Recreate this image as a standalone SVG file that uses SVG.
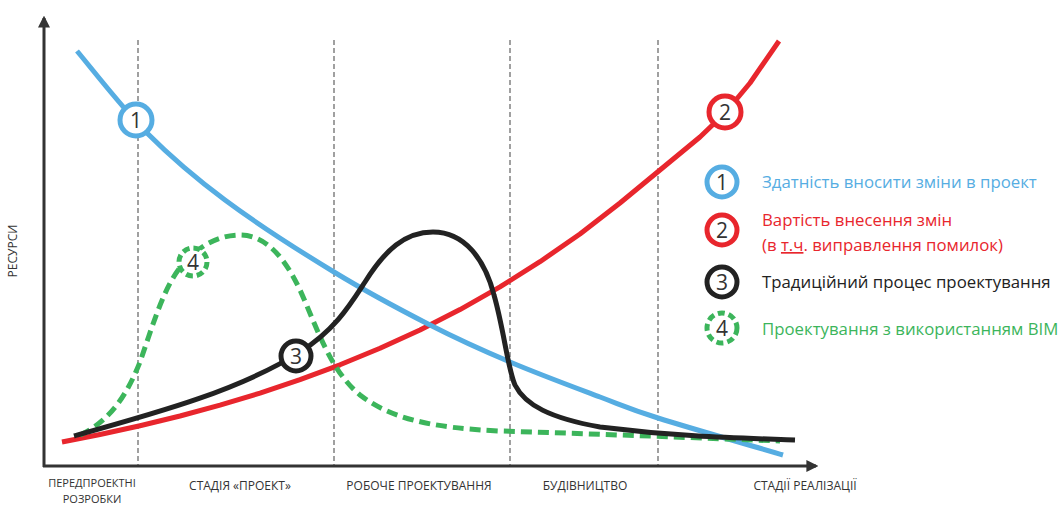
<svg xmlns="http://www.w3.org/2000/svg" width="1062" height="506" viewBox="0 0 1062 506">
<style>
.axis{stroke:#333;stroke-width:3;fill:none}
.grid{stroke:#a0a0a0;stroke-width:2;stroke-dasharray:5 3;fill:none}
.c{fill:none;stroke-width:5;stroke-linecap:butt;stroke-linejoin:round}
.blue{stroke:#56ade2}
.red{stroke:#e8262d}
.black{stroke:#222}
.green{stroke:#3cb55b;stroke-dasharray:11 6}
.mk{fill:#fff;stroke-width:5}
.num{font-family:"Open Sans","Liberation Sans",sans-serif;font-size:21px;fill:#333;text-anchor:middle}
.lab{font-family:"Open Sans","Liberation Sans",sans-serif;font-size:12px;fill:#333;text-anchor:middle}
.lab2{font-size:11px}
.leg{font-family:"Open Sans","Liberation Sans",sans-serif;font-size:16.8px}
</style>
<defs>
<marker id="arr" viewBox="0 0 10 10" refX="8" refY="5" markerWidth="4" markerHeight="4" orient="auto" markerUnits="strokeWidth">
<path d="M0,0 L10,5 L0,10 z" fill="#333"/>
</marker>
</defs>
<rect width="1062" height="506" fill="#fff"/>
<g id="grid">
<line class="grid" x1="138" y1="40" x2="138" y2="466"/>
<line class="grid" x1="334" y1="40" x2="334" y2="466"/>
<line class="grid" x1="510" y1="40" x2="510" y2="466"/>
<line class="grid" x1="658" y1="40" x2="658" y2="466"/>
</g>
<g id="axes">
<line class="axis" x1="44" y1="467" x2="44" y2="18" marker-end="url(#arr)"/>
<line class="axis" x1="43" y1="466" x2="816" y2="466" marker-end="url(#arr)"/>
<text class="lab" x="17" y="251" transform="rotate(-90 17 251)">РЕСУРСИ</text>
<text class="lab lab2" x="92" y="487">ПЕРЕДПРОЕКТНІ</text>
<text class="lab lab2" x="92" y="503">РОЗРОБКИ</text>
<text class="lab" x="240" y="490">СТАДІЯ «ПРОЕКТ»</text>
<text class="lab" x="419" y="490">РОБОЧЕ ПРОЕКТУВАННЯ</text>
<text class="lab" x="585" y="490">БУДІВНИЦТВО</text>
<text class="lab" x="805" y="490">СТАДІЇ РЕАЛІЗАЦІЇ</text>
</g>
<g id="connectors">
<path id="curve-red" class="c red" d="M62,442 L100,434.5 L140,425.7 L180,416 L220,405.1 L260,393.1 L300,379.7 L340,364.8 L380,348.3 L420,330 L460,309.6 L500,286.9 L540,261.7 L580,234 L620,203 L660,170 L700,137 L725,113 L750,83 L779,41"/>
<path id="curve-blue" class="c blue" d="M77,51 C88.7,64.7 122.3,108.2 147,133 C171.7,157.8 193.8,176.8 225,200 C256.2,223.2 299.8,251.2 334,272 C368.2,292.8 400.7,310 430,325 C459.3,340 481.7,350 510,362 C538.3,374 575.3,387.7 600,397 C624.7,406.3 627.5,408.3 658,418 C688.5,427.7 762.2,448.8 783,455"/>
<path id="curve-green" class="c green" d="M80,435 C112,420 128,392 140,362 C153,325 165,282 185,262 C200,245 220,235 240,235 C266,235 285,258 300,290 C318,330 330,370 360,395 C390,418 430,428 500,431 C600,434 700,438 780,441"/>
<path id="curve-black" class="c black" d="M74,436 C160,412 240,390 300,352 C335,330 350,305 365,282 C385,250 405,232 433,232 C465,232 485,260 494,295 C504,330 508,370 515,385 C525,405 550,418 600,427 C680,437 740,438 795,440"/>
</g>
<g id="marker-1">
<circle class="mk" cx="136" cy="120" r="16" stroke="#56ade2"/>
<text class="num" x="136" y="128">1</text>
</g>
<g id="marker-2">
<circle class="mk" cx="725" cy="112" r="16" stroke="#e8262d"/>
<text class="num" x="725" y="120">2</text>
</g>
<g id="marker-3">
<circle class="mk" cx="296" cy="356" r="15" stroke="#222"/>
<text class="num" x="296" y="364">3</text>
</g>
<g id="marker-4">
<circle class="mk" cx="193" cy="262" r="14" stroke="#3cb55b" stroke-dasharray="7 4"/>
<text class="num" x="193" y="270">4</text>
</g>
<g id="legend-1">
<circle class="mk" cx="722" cy="182" r="15" stroke="#56ade2"/>
<text class="num" x="722" y="190">1</text>
<text class="leg" x="762" y="188" fill="#56ade2">Здатність вносити зміни в проект</text>
</g>
<g id="legend-2">
<circle class="mk" cx="722" cy="230" r="15" stroke="#e8262d"/>
<text class="num" x="722" y="238">2</text>
<text class="leg" x="762" y="226" fill="#e8262d">Вартість внесення змін</text>
<text class="leg" x="762" y="251" fill="#e8262d">(в  <tspan text-decoration="underline">т.ч</tspan>. виправлення помилок)</text>
</g>
<g id="legend-3">
<circle class="mk" cx="722" cy="282" r="15" stroke="#222"/>
<text class="num" x="722" y="290">3</text>
<text class="leg" x="762" y="288" fill="#222">Традиційний процес проектування</text>
</g>
<g id="legend-4">
<circle class="mk" cx="722" cy="328" r="15" stroke="#3cb55b" stroke-dasharray="7 4"/>
<text class="num" x="722" y="336">4</text>
<text class="leg" x="762" y="335" fill="#3cb55b">Проектування з використанням ВІМ</text>
</g>
</svg>
